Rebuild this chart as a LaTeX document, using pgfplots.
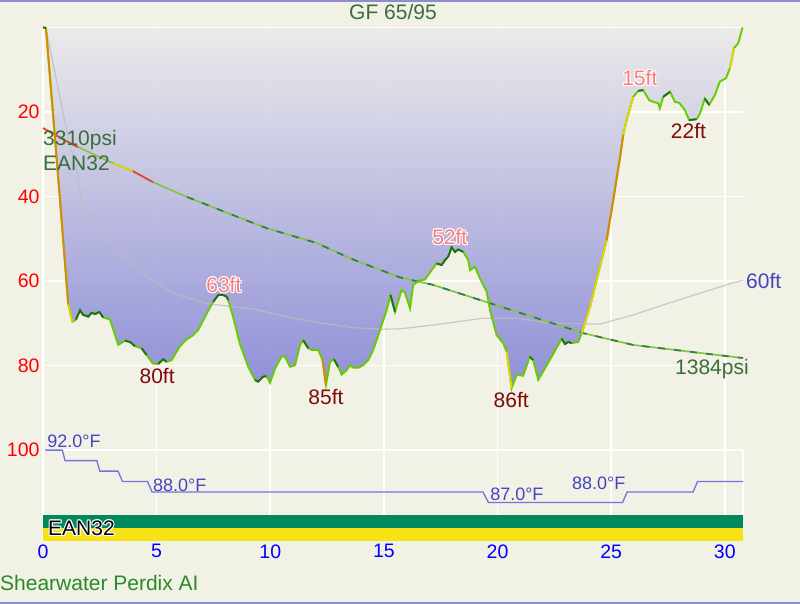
\documentclass[border=0pt]{standalone}
\usepackage{fontspec}
\setmainfont{Liberation Sans}
\usepackage{pgfplots}
\pgfplotsset{compat=1.18}
\usepackage{pgfplotstable}

\definecolor{bg}{HTML}{F2F1E6}
\definecolor{frame}{HTML}{8C8CD4}
\definecolor{fillTop}{HTML}{EAEAEB}
\definecolor{fillBot}{HTML}{7E7ED6}
\definecolor{prof}{HTML}{66CC00}
\definecolor{profdark}{HTML}{1E6E1E}
\definecolor{profyel}{HTML}{E3D400}
\definecolor{proforg}{HTML}{DD8800}
\definecolor{psigreen}{HTML}{86C440}
\definecolor{psidark}{HTML}{2E7D4F}
\definecolor{psired}{HTML}{E84040}
\definecolor{labgreen}{HTML}{3A6E3A}
\definecolor{pinklab}{HTML}{FF7B7B}
\definecolor{maroonlab}{HTML}{7F0A0A}
\definecolor{tempc}{HTML}{7373DD}
\definecolor{templab}{HTML}{4545C0}
\definecolor{gasgreen}{HTML}{00895C}
\definecolor{gasyellow}{HTML}{F7E216}
\definecolor{brand}{HTML}{2A8A2A}
\definecolor{ceil}{HTML}{BDBDBD}

\newcommand{\labfont}{\fontsize{21}{24}\selectfont}
\newcommand{\tickfont}{\fontsize{19.5}{22}\selectfont}
\newcommand{\tempfont}{\fontsize{18}{20}\selectfont}

% #1 node options, #2 coordinate, #3 colour, #4 text (white outline)
\newcommand{\halo}[4]{%
  \node[#1,text=white,xshift=1.1pt] at (#2) {#4};
  \node[#1,text=white,xshift=-1.1pt] at (#2) {#4};
  \node[#1,text=white,yshift=1.1pt] at (#2) {#4};
  \node[#1,text=white,yshift=-1.1pt] at (#2) {#4};
  \node[#1,text=white,xshift=0.8pt,yshift=0.8pt] at (#2) {#4};
  \node[#1,text=white,xshift=-0.8pt,yshift=0.8pt] at (#2) {#4};
  \node[#1,text=white,xshift=0.8pt,yshift=-0.8pt] at (#2) {#4};
  \node[#1,text=white,xshift=-0.8pt,yshift=-0.8pt] at (#2) {#4};
  \node[#1,text=#3] at (#2) {#4};
}

% dive profile: time (min), depth (ft)
\pgfplotstableread{
t d
0 0
0.13 0.1
0.75 40.8
1.11 65.5
1.29 69.6
1.45 69.1
1.63 66.9
1.77 68.0
1.99 68.4
2.14 67.5
2.29 67.8
2.48 67.3
2.65 68.6
2.95 69.1
3.31 75.1
3.61 74.1
3.83 74.4
4.05 75.4
4.34 75.9
4.56 77.5
4.83 79.5
5.07 79.6
5.29 78.5
5.44 79.1
5.66 78.7
5.88 76.7
6.03 75.4
6.32 73.8
6.61 72.8
6.83 71.6
7.20 67.7
7.49 64.9
7.71 63.3
7.93 63.3
8.08 63.7
8.15 64.5
8.37 68.6
8.67 75.0
9.03 80.3
9.33 83.4
9.47 83.8
9.69 82.6
9.84 82.5
9.99 84.1
10.21 80.7
10.50 77.8
10.65 77.9
10.87 80.3
11.09 79.9
11.31 75.1
11.45 74.0
11.67 75.9
11.82 76.3
12.11 76.3
12.30 78.7
12.45 84.6
12.63 79.1
12.80 78.5
12.99 80.3
13.14 82.1
13.36 81.1
13.51 79.9
13.65 80.5
13.87 80.5
14.09 79.9
14.31 78.7
14.53 76.3
14.83 71.6
15.12 66.9
15.29 63.3
15.49 67.3
15.78 62.1
15.93 62.8
16.15 66.5
16.29 60.9
16.51 60.0
16.81 59.6
17.10 57.4
17.32 55.8
17.54 56.2
17.69 55.0
17.83 54.2
17.98 52.0
18.13 53.1
18.27 52.5
18.49 53.1
18.71 55.0
18.79 57.4
19.00 56.6
19.23 59.4
19.52 62.5
19.67 66.9
19.96 72.8
20.25 74.7
20.40 76.7
20.62 85.4
20.84 82.2
21.13 82.4
21.42 77.9
21.57 78.7
21.79 83.4
22.08 80.7
22.38 77.9
22.67 75.1
22.82 73.6
22.97 74.9
23.11 74.4
23.26 74.7
23.55 74.4
23.70 72.4
24.07 66.1
24.43 58.2
24.80 50.3
25.09 40.8
25.38 31.0
25.53 25.4
25.68 21.9
25.97 16.4
26.19 15.0
26.41 14.8
26.67 17.2
26.85 17.6
27.07 17.9
27.14 19.1
27.29 16.4
27.59 15.2
27.80 17.6
27.99 17.8
28.24 19.5
28.43 21.9
28.76 21.7
28.91 20.3
29.12 16.8
29.31 18.3
29.56 16.0
29.78 12.8
30.05 12.0
30.22 9.7
30.40 4.9
30.59 3.7
30.78 0
}\profile

% tank pressure: time (min), psi
\pgfplotstableread{
t p
0 3310
1.10 3193
1.54 3151
3.08 3016
3.96 2949
4.84 2857
6.34 2733
8.36 2581
9.85 2471
12.05 2347
13.50 2220
15.70 2060
17.16 1997
19.53 1852
21.56 1728
23.76 1593
25.96 1494
28.90 1427
30.80 1384
}\pressure

% grey curve: time (min), depth (ft)
\pgfplotstableread{
t d
0.10 0.5
0.22 2.5
0.62 13.1
1.06 25.0
1.50 34.4
1.70 40.8
2.07 44.9
2.95 51.0
3.60 54.5
4.27 57.8
5.73 62.9
7.20 65.3
8.37 66.1
9.25 66.6
10.70 68.4
12.20 69.9
13.65 71.0
14.83 71.4
15.70 71.3
17.16 70.4
19.36 68.8
20.85 68.8
22.30 69.9
24.50 70.2
25.97 68.0
28.17 64.1
30.37 60.4
30.80 59.8
}\ceiling

% water temperature: time (min), deg F
\pgfplotstableread{
t T
0.10 92
0.85 92
0.97 91
2.37 91
2.50 90
3.30 90
3.50 89
4.60 89
4.80 88
19.36 88
19.60 87
25.50 87
25.70 88
28.60 88
28.80 89
30.80 89
}\temperature

\begin{document}
\begin{tikzpicture}
\fill[bg] (-43pt,-63pt) rectangle (757pt,541pt);
\fill[frame] (-43pt,539pt) rectangle (757pt,541pt);
\fill[frame] (-43pt,-63pt) rectangle (757pt,-61pt);
\begin{axis}[
  at={(0pt,0pt)}, anchor=south west,
  scale only axis, width=700pt, height=513.5pt,
  xmin=0, xmax=30.8, ymin=0, ymax=121.5, y dir=reverse,
  axis line style={draw=none}, tick style={draw=none},
  xtick={0,5,...,30}, ytick={20,40,60,80,100},
  grid=major, grid style={white, line width=1.6pt},
  /pgf/number format/assume math mode=true,
  xticklabel style={text=blue, font=\tickfont},
  yticklabel style={text=red, font=\tickfont},
  clip=false,
]
% filled profile
\addplot[draw=none, top color=fillTop, bottom color=fillBot, fill opacity=0.85] table[x=t,y=d] {\profile} \closedcycle;
\draw[white, line width=1.6pt] (0,0) -- (30.8,0);
\draw[white, line width=1.6pt] (30.8,100) -- (30.8,115.4);
% grey curve
\addplot[ceil, line width=1.3pt, opacity=0.75] table[x=t,y=d] {\ceiling};
% pressure
\addplot[psigreen, line width=1.7pt, y filter/.expression={23.8+(3310-y)*0.02825}] table[x=t,y=p] {\pressure};
\addplot[psidark, line width=1.7pt, dash pattern=on 7pt off 9pt, y filter/.expression={23.8+(3310-y)*0.02825}, restrict x to domain=5:30.8] table[x=t,y=p] {\pressure};
\addplot[psired, line width=1.7pt, y filter/.expression={23.8+(3310-y)*0.02825}, restrict x to domain=0:1.6] table[x=t,y=p] {\pressure};
\addplot[profyel, line width=1.7pt, y filter/.expression={23.8+(3310-y)*0.02825}, restrict x to domain=2.9:4.0] table[x=t,y=p] {\pressure};
\addplot[psired, line width=1.7pt, y filter/.expression={23.8+(3310-y)*0.02825}, restrict x to domain=3.9:4.9] table[x=t,y=p] {\pressure};
% profile line
\addplot[prof, line width=1.9pt] table[x=t,y=d] {\profile};
\addplot[proforg, line width=1.9pt, restrict x to domain=0.1:1.2] table[x=t,y=d] {\profile};
\addplot[profdark, line width=1.9pt, restrict x to domain=0:0.14] table[x=t,y=d] {\profile};
\addplot[profyel, line width=1.9pt, restrict x to domain=1.1:1.3] table[x=t,y=d] {\profile};
\addplot[profdark, line width=1.9pt, restrict x to domain=1.4:2.7] table[x=t,y=d] {\profile};
\addplot[profdark, line width=1.9pt, restrict x to domain=3.55:4.1] table[x=t,y=d] {\profile};
\addplot[profdark, line width=1.9pt, restrict x to domain=4.3:4.6] table[x=t,y=d] {\profile};
\addplot[profdark, line width=1.9pt, restrict x to domain=4.95:5.5] table[x=t,y=d] {\profile};
\addplot[profdark, line width=1.9pt, restrict x to domain=7.45:8.2] table[x=t,y=d] {\profile};
\addplot[profdark, line width=1.9pt, restrict x to domain=9.25:9.9] table[x=t,y=d] {\profile};
\addplot[profdark, line width=1.9pt, restrict x to domain=11.4:11.7] table[x=t,y=d] {\profile};
\addplot[proforg, line width=1.9pt, restrict x to domain=12.25:12.5] table[x=t,y=d] {\profile};
\addplot[profdark, line width=1.9pt, restrict x to domain=12.75:13.0] table[x=t,y=d] {\profile};
\addplot[profdark, line width=1.9pt, restrict x to domain=15.25:15.5] table[x=t,y=d] {\profile};
\addplot[profdark, line width=1.9pt, restrict x to domain=17.3:18.5] table[x=t,y=d] {\profile};
\addplot[profyel, line width=1.9pt, restrict x to domain=20.4:20.65] table[x=t,y=d] {\profile};
\addplot[profdark, line width=1.9pt, restrict x to domain=21.4:21.6] table[x=t,y=d] {\profile};
\addplot[profdark, line width=1.9pt, restrict x to domain=22.8:23.3] table[x=t,y=d] {\profile};
\addplot[profyel, line width=1.9pt, restrict x to domain=23.7:24.85] table[x=t,y=d] {\profile};
\addplot[proforg, line width=1.9pt, restrict x to domain=24.8:25.55] table[x=t,y=d] {\profile};
\addplot[profyel, line width=1.9pt, restrict x to domain=25.5:26.0] table[x=t,y=d] {\profile};
\addplot[profdark, line width=1.9pt, restrict x to domain=26.1:26.5] table[x=t,y=d] {\profile};
\addplot[profdark, line width=1.9pt, restrict x to domain=27.2:27.6] table[x=t,y=d] {\profile};
\addplot[profdark, line width=1.9pt, restrict x to domain=28.4:28.8] table[x=t,y=d] {\profile};
\addplot[profdark, line width=1.9pt, restrict x to domain=29.1:29.35] table[x=t,y=d] {\profile};
\addplot[profyel, line width=1.9pt, restrict x to domain=30.2:30.42] table[x=t,y=d] {\profile};
% temperature
\addplot[tempc, line width=1.3pt, y filter/.expression={100+(92-y)*2.48}] table[x=t,y=T] {\temperature};
% gas bars
\addplot[draw=none, fill=gasgreen] coordinates {(0,115.4) (30.8,115.4) (30.8,118.5) (0,118.5)} -- cycle;
\addplot[draw=none, fill=gasyellow] coordinates {(0,118.5) (30.8,118.5) (30.8,121.5) (0,121.5)} -- cycle;
% labels
\halo{font=\labfont}{7.96,60.9}{pinklab}{63ft}
\halo{font=\labfont}{17.9,49.6}{pinklab}{52ft}
\halo{font=\labfont}{26.26,12.0}{pinklab}{15ft}
\node[font=\labfont, text=maroonlab] at (5.02,82.5) {80ft};
\node[font=\labfont, text=maroonlab] at (12.45,87.4) {85ft};
\node[font=\labfont, text=maroonlab] at (20.6,88.2) {86ft};
\node[font=\labfont, text=maroonlab] at (28.4,24.5) {22ft};
\node[font=\labfont, text=labgreen, anchor=west, inner sep=0pt] at (0.0,26.6) {3310psi};
\node[font=\labfont, text=labgreen, anchor=west, inner sep=0pt] at (0.0,32.1) {EAN32};
\node[font=\labfont, text=labgreen, anchor=east, inner sep=0pt] at (31.06,80.8) {1384psi};
\node[font=\labfont, text=templab, anchor=west, inner sep=0pt] at (30.93,60.0) {60ft};
\node[font=\tempfont, text=templab, anchor=west, inner sep=0pt] at (0.18,97.9) {92.0°F};
\node[font=\tempfont, text=templab, anchor=west, inner sep=0pt] at (4.84,108.3) {88.0°F};
\node[font=\tempfont, text=templab, anchor=west, inner sep=0pt] at (19.67,110.4) {87.0°F};
\node[font=\tempfont, text=templab, anchor=west, inner sep=0pt] at (23.27,107.8) {88.0°F};
\halo{font=\labfont, anchor=west, inner sep=0pt}{0.22,118.5}{black}{EAN32}
\end{axis}
\node[font=\fontsize{21}{24}\selectfont, text=labgreen] at (350pt,529pt) {GF 65/95};
\node[font=\fontsize{21}{24}\selectfont, text=brand, anchor=west, inner sep=0pt] at (-43pt,-42pt) {Shearwater Perdix AI};
\pgfresetboundingbox
\useasboundingbox (-43pt,-63pt) rectangle (757pt,541pt);
\end{tikzpicture}
\end{document}
